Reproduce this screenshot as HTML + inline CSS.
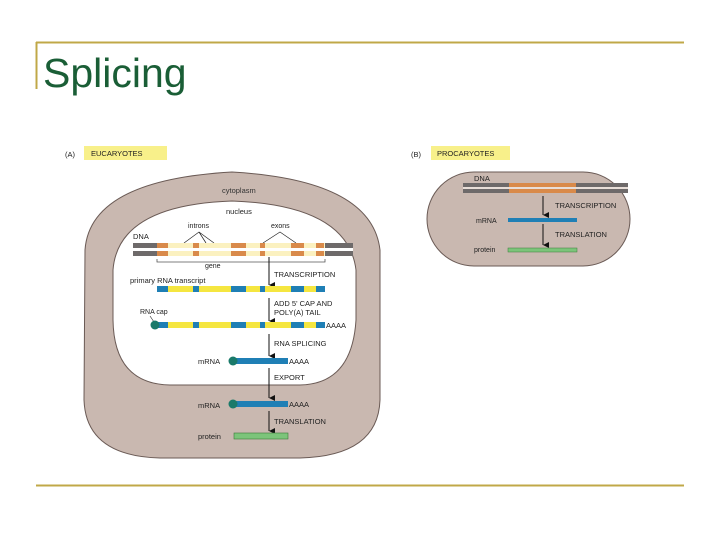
<!DOCTYPE html>
<html><head><meta charset="utf-8"><style>
html,body{margin:0;padding:0;background:#fff;width:720px;height:540px;overflow:hidden}
svg text{font-family:"Liberation Sans",Arial,sans-serif}
</style></head><body>
<svg width="720" height="540" viewBox="0 0 720 540" xmlns="http://www.w3.org/2000/svg">
<defs><marker id="ah" markerWidth="6" markerHeight="6" refX="3" refY="6" orient="auto" markerUnits="userSpaceOnUse"><path d="M0,0 L6,0 L3,6 Z" fill="#111"/></marker></defs>
<line x1="36" y1="42.5" x2="684" y2="42.5" stroke="#c0a848" stroke-width="2"/>
<line x1="36.5" y1="42" x2="36.5" y2="89" stroke="#c0a848" stroke-width="2"/>
<line x1="36" y1="485.5" x2="684" y2="485.5" stroke="#c0a848" stroke-width="2"/>
<text x="43" y="87" font-size="41" fill="#1a5e36">Splicing</text>

<!-- A -->
<text x="65" y="157" font-size="7.5" fill="#222">(A)</text>
<rect x="84" y="146" width="83" height="14" fill="#f8f08a"/>
<text x="91" y="156" font-size="7.5" fill="#222">EUCARYOTES</text>
<path d="M85,250 Q90,180 232,172 Q372,180 380,250 L380,400 Q378,456 300,458 L160,458 Q86,456 84,400 Z" fill="#c9b8b0" stroke="#6a5a55" stroke-width="1"/>
<path d="M113,270 Q118,205 232,201 Q348,205 356,270 L356,320 Q352,384 300,385 L170,385 Q114,384 113,320 Z" fill="#fff" stroke="#6a5a55" stroke-width="1"/>
<text x="222" y="193" font-size="7.5" fill="#333">cytoplasm</text>
<text x="226" y="214" font-size="7.5" fill="#222">nucleus</text>
<text x="133" y="239" font-size="7.5" fill="#222">DNA</text>
<text x="188" y="228" font-size="7" fill="#222">introns</text>
<text x="271" y="228" font-size="7" fill="#222">exons</text>
<path d="M184,243 L199,232 L214,243 M206,243 L199,232" stroke="#222" fill="none" stroke-width="0.7"/>
<path d="M263,243 L280,232 L296,243" stroke="#222" fill="none" stroke-width="0.7"/>
<g>
<rect x="133" y="243" width="220" height="5" fill="#6e6a6a"/>
<rect x="133" y="251" width="220" height="5" fill="#6e6a6a"/>
<rect x="157" y="243" width="168" height="5" fill="#fbf1c0"/>
<rect x="157" y="251" width="168" height="5" fill="#fbf1c0"/>
<g fill="#d98a4a">
<rect x="157" y="243" width="11" height="13"/><rect x="193" y="243" width="6" height="13"/><rect x="231" y="243" width="15" height="13"/><rect x="260" y="243" width="5" height="13"/><rect x="291" y="243" width="13" height="13"/><rect x="316" y="243" width="8" height="13"/>
</g>
<rect x="133" y="248" width="220" height="3" fill="#fff"/>
</g>
<path d="M157,259 L157,262 L325,262 L325,259" stroke="#555" fill="none" stroke-width="0.8"/>
<text x="205" y="268" font-size="7" fill="#222">gene</text>
<text x="130" y="283" font-size="7.5" fill="#222">primary RNA transcript</text>
<line x1="269" y1="257" x2="269" y2="285" stroke="#111" stroke-width="1" marker-end="url(#ah)"/>
<text x="274" y="277" font-size="7.5" fill="#222">TRANSCRIPTION</text>
<g id="tr">
<rect x="157" y="286" width="168" height="6" fill="#f5e640"/>
<g fill="#1f7fb5"><rect x="157" y="286" width="11" height="6"/><rect x="193" y="286" width="6" height="6"/><rect x="231" y="286" width="15" height="6"/><rect x="260" y="286" width="5" height="6"/><rect x="291" y="286" width="13" height="6"/><rect x="316" y="286" width="9" height="6"/></g>
</g>
<line x1="269" y1="298" x2="269" y2="321" stroke="#111" stroke-width="1" marker-end="url(#ah)"/>
<text x="274" y="306" font-size="7.5" fill="#222">ADD 5' CAP AND</text>
<text x="274" y="315" font-size="7.5" fill="#222">POLY(A) TAIL</text>
<text x="140" y="314" font-size="7" fill="#222">RNA cap</text>
<line x1="150" y1="316" x2="154" y2="322" stroke="#222" stroke-width="0.6"/>
<use href="#tr" y="36"/>
<circle cx="155" cy="325" r="4.5" fill="#1a7a6a"/>
<text x="326" y="328" font-size="7.5" fill="#222">AAAA</text>
<line x1="269" y1="334" x2="269" y2="356" stroke="#111" stroke-width="1" marker-end="url(#ah)"/>
<text x="274" y="346" font-size="7.5" fill="#222">RNA SPLICING</text>
<text x="198" y="364" font-size="7.5" fill="#222">mRNA</text>
<rect x="234" y="358" width="54" height="6" fill="#1f7fb5"/>
<circle cx="233" cy="361" r="4.5" fill="#1a7a6a"/>
<text x="289" y="364" font-size="7.5" fill="#222">AAAA</text>
<line x1="269" y1="368" x2="269" y2="398" stroke="#111" stroke-width="1" marker-end="url(#ah)"/>
<text x="274" y="380" font-size="7.5" fill="#222">EXPORT</text>
<text x="198" y="408" font-size="7.5" fill="#222">mRNA</text>
<rect x="234" y="401" width="54" height="6" fill="#1f7fb5"/>
<circle cx="233" cy="404" r="4.5" fill="#1a7a6a"/>
<text x="289" y="407" font-size="7.5" fill="#222">AAAA</text>
<line x1="269" y1="411" x2="269" y2="431" stroke="#111" stroke-width="1" marker-end="url(#ah)"/>
<text x="274" y="424" font-size="7.5" fill="#222">TRANSLATION</text>
<text x="198" y="439" font-size="7.5" fill="#222">protein</text>
<rect x="234" y="433" width="54" height="6" fill="#7cc47a" stroke="#3a7a3a" stroke-width="0.6"/>

<!-- B -->
<text x="411" y="157" font-size="7.5" fill="#222">(B)</text>
<rect x="431" y="146" width="79" height="14" fill="#f8f08a"/>
<text x="437" y="156" font-size="7.5" fill="#222">PROCARYOTES</text>
<rect x="427" y="172" width="203" height="94" rx="47" fill="#c9b8b0" stroke="#6a5a55" stroke-width="1"/>
<text x="474" y="181" font-size="7.5" fill="#222">DNA</text>
<rect x="463" y="183" width="165" height="4" fill="#6e6a6a"/>
<rect x="463" y="189" width="165" height="4" fill="#6e6a6a"/>
<rect x="509" y="183" width="67" height="10" fill="#d98a4a"/>
<rect x="463" y="187" width="165" height="2" fill="#e8ded8"/>
<line x1="543" y1="196" x2="543" y2="215" stroke="#111" stroke-width="1" marker-end="url(#ah)"/>
<text x="555" y="208" font-size="7.5" fill="#222">TRANSCRIPTION</text>
<text x="476" y="223" font-size="7" fill="#222">mRNA</text>
<rect x="508" y="218" width="69" height="4" fill="#1f7fb5"/>
<line x1="543" y1="224" x2="543" y2="245" stroke="#111" stroke-width="1" marker-end="url(#ah)"/>
<text x="555" y="237" font-size="7.5" fill="#222">TRANSLATION</text>
<text x="474" y="252" font-size="7" fill="#222">protein</text>
<rect x="508" y="248" width="69" height="4" fill="#7cc47a" stroke="#3a7a3a" stroke-width="0.5"/>
</svg>
</body></html>
